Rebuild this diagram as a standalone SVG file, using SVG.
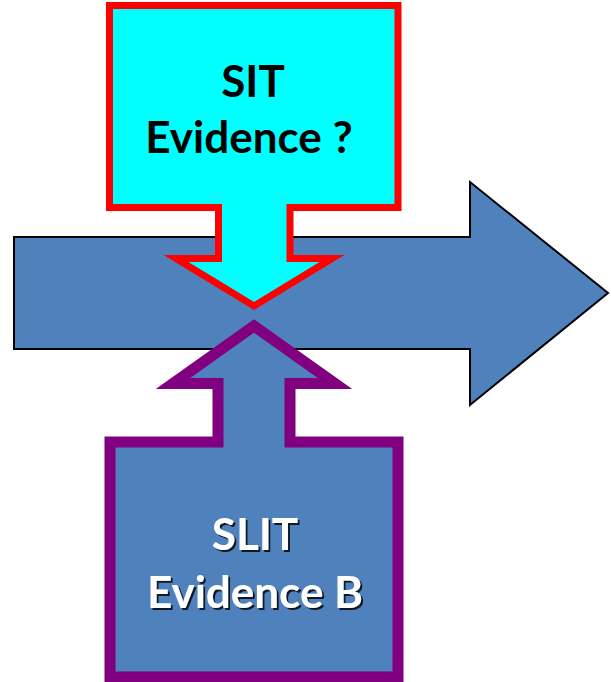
<svg xmlns="http://www.w3.org/2000/svg" width="611" height="682" viewBox="0 0 611 682">
<defs>
<filter id="shadow" x="-10%" y="-20%" width="130%" height="150%">
<feDropShadow dx="2" dy="2" stdDeviation="0.6" flood-color="#000" flood-opacity="0.8"/>
</filter>
</defs>
<style>
.lbl{font-family:Lato,"Open Sans","Liberation Sans",sans-serif;font-weight:bold;font-size:44px;text-anchor:middle}
.dark{fill:#000}
.light{fill:#fff;filter:url(#shadow)}
</style>
<rect width="611" height="682" fill="#fff"/>
<g id="connectors">
<polygon id="main-arrow" points="14,237 470,237 470,182 608,293 470,405 470,349 14,349" fill="#4F81BD" stroke="#000" stroke-width="2" stroke-linejoin="miter"/>
</g>
<g id="sit">
<polygon points="109.5,5.5 398,5.5 398,207.5 290,207.5 290,258.5 332,258.5 254,306 176,258.5 218.5,258.5 218.5,207.5 109.5,207.5" fill="#00FFFF" stroke="#FF0000" stroke-width="7" stroke-linejoin="miter" stroke-miterlimit="10"/>
<text class="lbl dark" x="253" y="97">SIT</text>
<text class="lbl dark" x="249" y="153">Evidence ?</text>
</g>
<g id="slit">
<polygon points="110,677 398,677 398,442 290,442 290,383.5 335,383.5 254,326 173,383.5 218,383.5 218,442 110,442" fill="#4F81BD" stroke="#800080" stroke-width="11" stroke-linejoin="miter" stroke-miterlimit="10"/>
<text class="lbl light" x="255" y="550">SLIT</text>
<text class="lbl light" x="255" y="608">Evidence B</text>
</g>
</svg>
